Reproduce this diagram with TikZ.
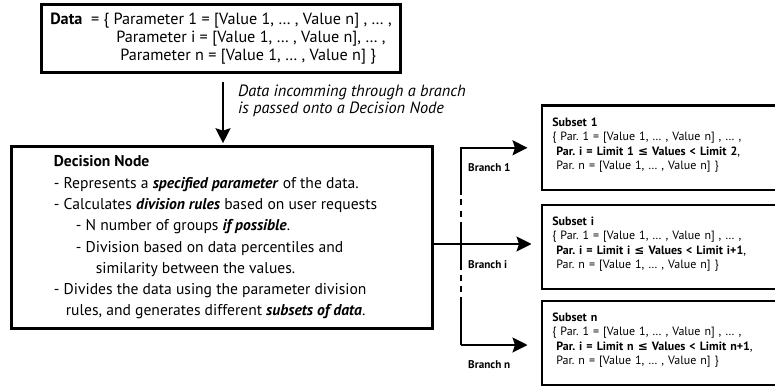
\documentclass[tikz,border=0pt]{standalone}
\usepackage{fontspec}
\setmainfont{PT Sans}
\newfontfamily\symfont{DejaVu Sans}
\usetikzlibrary{arrows.meta, positioning, calc}
\newcommand{\leqsign}{{\symfont ≤}}
\frenchspacing

\begin{document}
\begin{tikzpicture}[
      x=1pt, y=-1pt,
      box/.style={draw, line width=2.6pt, inner sep=0pt},
      subsetbox/.style={box, anchor=north west, text width=238pt,
        inner xsep=10.5pt, minimum height=84pt, align=left,
        font=\fontsize{12}{14.3}\selectfont},
      branchlabel/.style={anchor=west, inner sep=0pt,
        font=\bfseries\fontsize{11.2}{12}\selectfont},
      conn/.style={line width=2pt},
      >={Stealth[length=15pt, width=15pt, inset=2.5pt]}
    ]
      \useasboundingbox (0,0) rectangle (775,385);

      % input data
      \node[box, minimum width=359pt, minimum height=68pt, align=left,
        font=\fontsize{16.2}{18.3}\selectfont] (data) at (221,38.5)
        {\textbf{Data}\ \ = \{ Parameter 1 = [Value 1, … , Value n] , … ,\\
         \hspace*{66pt}Parameter i = [Value 1, … , Value n], … ,\\
         \hspace*{70pt}Parameter n = [Value 1, … , Value n] \}};

      % decision node
      \node[box, minimum width=421pt, minimum height=182pt] (decision)
        at (222,237.5) {};
      \node[anchor=west, align=left, inner sep=0pt,
        font=\fontsize{15.6}{21.3}\selectfont] (decisiontext)
        at ([xshift=43.5pt]decision.west)
        {\textbf{Decision Node}\\
         - Represents a \textbf{\textit{specified parameter}} of the data.\\
         - Calculates \textbf{\textit{division rules}} based on user requests\\
         \hspace*{22pt}- N number of groups \textbf{\textit{if possible}}.\\
         \hspace*{22pt}- Division based on data percentiles and\\
         \hspace*{42pt}similarity between the values.\\
         - Divides the data using the parameter division\\
         \hspace*{12pt}rules, and generates different \textbf{\textit{subsets of data}}.};

      \draw[->, conn, shorten <=8pt, shorten >=2pt]
        ([xshift=2pt]data.south) -- ([xshift=2pt]data.south |- decision.north);
      \node[anchor=west, align=left, inner sep=0pt,
        font=\itshape\fontsize{16.3}{17}\selectfont] (incoming) at (238,100.5)
        {Data incomming through a branch\\is passed onto a Decision Node};

      % subsets
      \node[subsetbox] (subset1) at (540.5,104.5)
        {\textbf{Subset 1}\\
         \{ Par. 1 = [Value 1, … , Value n] , … ,\\
         \hspace*{4pt}\textbf{Par. i = Limit 1 \leqsign\ Values < Limit 2},\\
         \hspace*{4pt}Par. n = [Value 1, … , Value n] \}\rule[-8pt]{0pt}{8pt}};
      \node[subsetbox] (subseti) at (540.5,203.5)
        {\textbf{Subset i}\\
         \{ Par. 1 = [Value 1, … , Value n] , … ,\\
         \hspace*{4pt}\textbf{Par. i = Limit i \leqsign\ Values < Limit i+1},\\
         \hspace*{4pt}Par. n = [Value 1, … , Value n] \}\rule[-8pt]{0pt}{8pt}};
      \node[subsetbox] (subsetn) at (540.5,299.5)
        {\textbf{Subset n}\\
         \{ Par. 1 = [Value 1, … , Value n] , … ,\\
         \hspace*{4pt}\textbf{Par. i = Limit n \leqsign\ Values < Limit n+1},\\
         \hspace*{4pt}Par. n = [Value 1, … , Value n] \}\rule[-8pt]{0pt}{8pt}};

      % branches
      \coordinate (split) at (461,244);
      \coordinate (top) at (split |- subset1.west);
      \coordinate (bottom) at (461,345);
      \draw[line width=2.6pt, dash pattern=on 48pt off 4pt on 6pt off 6pt
        on 6pt off 5pt on 48pt off 5pt on 6pt off 5pt on 6pt off 5pt on 48pt]
        ([yshift=1pt]top) -- ([yshift=-1pt]bottom);
      \draw[->, conn, shorten >=9pt] (decision.east |- split) -- (split -| subseti.west);
      \draw[->, conn, shorten >=13pt] (top) -- (subset1.west);
      \draw[->, conn, shorten >=13pt] (bottom) -- (bottom -| subsetn.west);

      \node[branchlabel] (branch1) at ([shift={(7,20)}]top) {Branch 1};
      \node[branchlabel] (branchi) at ([shift={(7,21)}]split) {Branch i};
      \node[branchlabel] (branchn) at ([shift={(7,20)}]bottom) {Branch n};
    \end{tikzpicture}
\end{document}
